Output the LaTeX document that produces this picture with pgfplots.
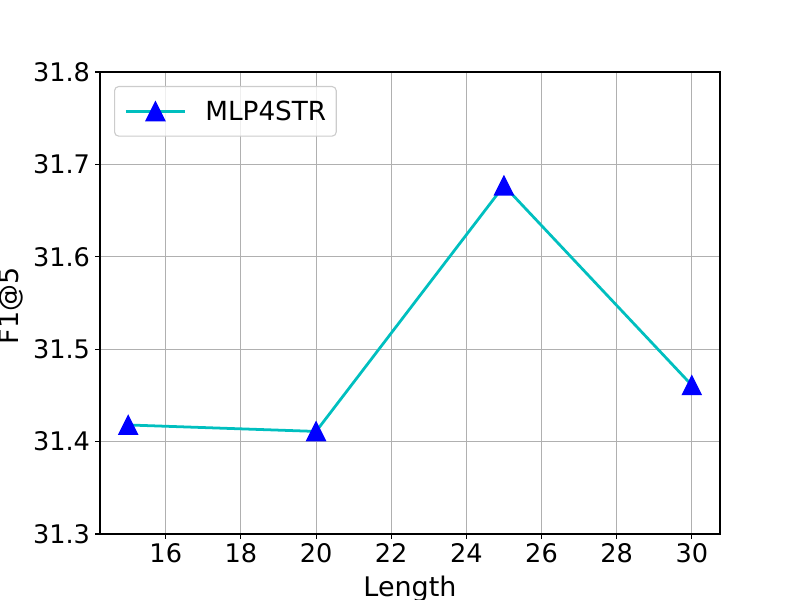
\documentclass[border=0pt]{standalone}
\usepackage{fontspec}
\setmainfont{DejaVu Sans}
\usepackage{pgfplots}
\pgfplotsset{compat=1.18}
\definecolor{mcyan}{rgb}{0,0.75,0.75}
\definecolor{gridgray}{HTML}{B0B0B0}
\definecolor{legedge}{HTML}{CCCCCC}
\pgfdeclareplotmark{mtri}{%
  \pgfpathmoveto{\pgfqpoint{0pt}{\pgfplotmarksize}}%
  \pgfpathlineto{\pgfqpoint{-\pgfplotmarksize}{-\pgfplotmarksize}}%
  \pgfpathlineto{\pgfqpoint{\pgfplotmarksize}{-\pgfplotmarksize}}%
  \pgfpathclose
  \pgfusepathqfillstroke}
\begin{document}
\begin{tikzpicture}
\useasboundingbox (0,0) rectangle (8in,6in);
\clip (0,0) rectangle (8in,6in);
\begin{axis}[
  at={(1in,0.66in)}, anchor=south west,
  scale only axis, width=6.2in, height=4.62in,
  xmin=14.25, xmax=30.75, ymin=31.3, ymax=31.8,
  xtick={16,18,20,22,24,26,28,30},
  ytick={31.3,31.4,31.5,31.6,31.7,31.8},
  tick align=outside, tick pos=left,
  major tick length=3.5pt,
  tick style={black, line width=0.8pt},
  grid=major, major grid style={gridgray, line width=0.8pt},
  axis line style={black, line width=0.8pt},
  /pgf/number format/assume math mode=true,
  tick label style={font=\fontsize{18.5}{22}\selectfont},
  y tick label style={/pgf/number format/fixed, /pgf/number format/fixed zerofill, /pgf/number format/precision=1},
  x tick label style={anchor=north, inner sep=0pt, yshift=-3.5pt},
  y tick label style={anchor=east, inner sep=0pt, xshift=-3.5pt},
  legend style={at={(axis description cs:0,1)}, anchor=north west,
    xshift=0.14in, yshift=-0.14in, draw=legedge, line width=0.8pt,
    rounded corners=3pt, fill=white, fill opacity=0.8, draw opacity=1, text opacity=1,
    inner xsep=0.1in, inner ysep=0.14in,
    font=\fontsize{19}{22}\selectfont,
    nodes={inner sep=0pt}, column sep=0.19in},
  legend image code/.code={\draw[mark repeat=2, mark phase=2, #1, fill opacity=1, draw opacity=1] plot coordinates {(0in,0in) (0.295in,0in) (0.59in,0in)};},
]
\addplot[mcyan, line width=2pt, mark=mtri, mark size=6.7pt,
  mark options={blue, fill=blue, line width=1pt}]
  coordinates {(15,31.418) (20,31.411) (25,31.677) (30,31.461)};
\addlegendentry{MLP4STR}
\end{axis}
\node[anchor=base, font=\fontsize{19.5}{22}\selectfont] at (4.1in,0.04in) {Length};
\node[anchor=base, rotate=90, font=\fontsize{19.5}{22}\selectfont] at (0.185in,2.94in) {F1@5};
\end{tikzpicture}
\end{document}
